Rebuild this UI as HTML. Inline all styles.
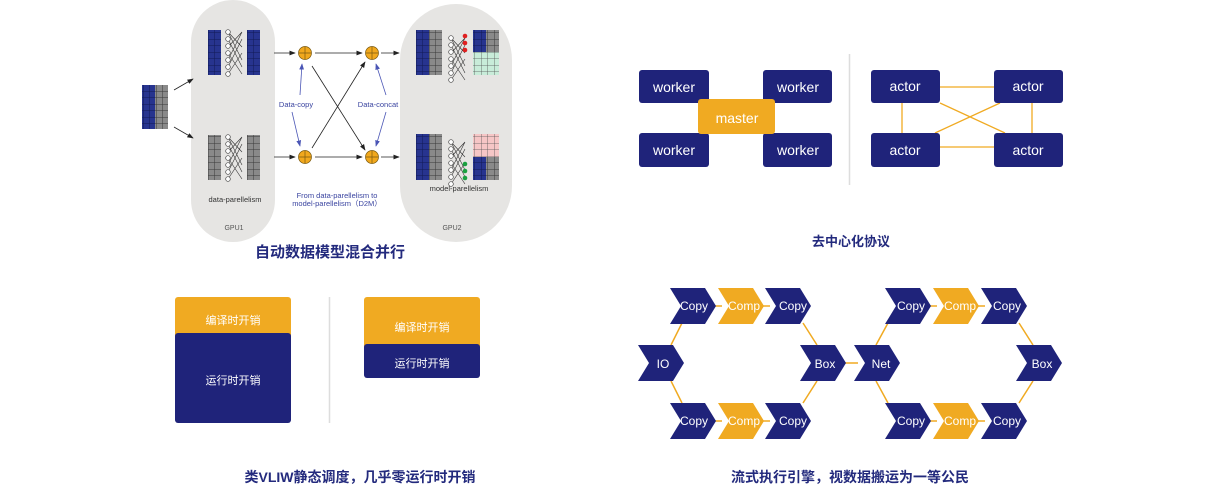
<!DOCTYPE html>
<html><head><meta charset="utf-8"><style>
html,body{margin:0;padding:0;background:#fff;}
svg{display:block;font-family:"Liberation Sans","Noto Sans CJK SC",sans-serif;}
</style></head><body>
<svg width="1207" height="500" viewBox="0 0 1207 500" xmlns="http://www.w3.org/2000/svg">
<defs>
<pattern id="gb" width="6.5" height="6.5" patternUnits="userSpaceOnUse"><rect width="6.5" height="6.5" fill="#27348f"/><path d="M0 0H6.5M0 0V6.5" stroke="#121a55" stroke-width="1"/></pattern>
<pattern id="gg" width="6.5" height="6.5" patternUnits="userSpaceOnUse"><rect width="6.5" height="6.5" fill="#8a8a8a"/><path d="M0 0H6.5M0 0V6.5" stroke="#3a3a3a" stroke-width="1"/></pattern>
<pattern id="gt" width="6.5" height="6.5" patternUnits="userSpaceOnUse"><rect width="6.5" height="6.5" fill="#c8ecd9"/><path d="M0 0H6.5M0 0V6.5" stroke="#555" stroke-width="0.8"/></pattern>
<pattern id="gp" width="6.5" height="6.5" patternUnits="userSpaceOnUse"><rect width="6.5" height="6.5" fill="#f6c6c6"/><path d="M0 0H6.5M0 0V6.5" stroke="#555" stroke-width="0.8"/></pattern>
<marker id="ak" markerWidth="8" markerHeight="8" refX="7" refY="4" orient="auto"><path d="M0 1L8 4L0 7Z" fill="#222"/></marker>
<marker id="ab" markerWidth="8" markerHeight="8" refX="7" refY="4" orient="auto"><path d="M0 1L8 4L0 7Z" fill="#4a55b5"/></marker>
<g id="net"><g stroke="#333" stroke-width="0.6" fill="none"><path d="M3 3L17 18M3 18L17 3M3 10L17 38M3 38L17 10M3 24L17 45M3 45L17 24M3 31L17 3M3 3L17 31"/></g>
<g fill="#fff" stroke="#444" stroke-width="0.7"><circle cx="3" cy="3" r="2.3"/><circle cx="3" cy="10" r="2.3"/><circle cx="3" cy="17" r="2.3"/><circle cx="3" cy="24" r="2.3"/><circle cx="3" cy="31" r="2.3"/><circle cx="3" cy="38" r="2.3"/><circle cx="3" cy="45" r="2.3"/></g></g>
</defs>

<rect x="191" y="0" width="84" height="242" rx="42" fill="#e6e5e3"/>
<rect x="400" y="4" width="112" height="238" rx="56" fill="#e6e5e3"/>
<rect x="142" y="85" width="13" height="44" fill="url(#gb)"/><rect x="155" y="85" width="13" height="44" fill="url(#gg)"/>
<line x1="174" y1="90" x2="193" y2="79" stroke="#222" stroke-width="0.8" marker-end="url(#ak)"/>
<line x1="174" y1="127" x2="193" y2="138" stroke="#222" stroke-width="0.8" marker-end="url(#ak)"/>
<rect x="208" y="30" width="13" height="45" fill="url(#gb)"/><use href="#net" x="225" y="29"/><rect x="247" y="30" width="13" height="45" fill="url(#gb)"/>
<rect x="208" y="135" width="13" height="45" fill="url(#gg)"/><use href="#net" x="225" y="134"/><rect x="247" y="135" width="13" height="45" fill="url(#gg)"/>
<text x="235" y="202" font-size="7.5" fill="#333" text-anchor="middle">data-parellelism</text>
<text x="234" y="230" font-size="7" fill="#555" text-anchor="middle">GPU1</text>
<rect x="416" y="30" width="13" height="45" fill="url(#gb)"/><rect x="429" y="30" width="13" height="45" fill="url(#gg)"/><use href="#net" x="448" y="35"/>
<g fill="#e02020"><circle cx="465" cy="36" r="2.3"/><circle cx="465" cy="43" r="2.3"/><circle cx="465" cy="50" r="2.3"/></g>
<rect x="473" y="30" width="26" height="22" fill="url(#gg)"/><rect x="473" y="30" width="13" height="22" fill="url(#gb)"/><rect x="473" y="52" width="26" height="23" fill="url(#gt)"/>
<rect x="416" y="134" width="13" height="46" fill="url(#gb)"/><rect x="429" y="134" width="13" height="46" fill="url(#gg)"/><use href="#net" x="448" y="139"/>
<g fill="#1aa040"><circle cx="465" cy="164" r="2.3"/><circle cx="465" cy="171" r="2.3"/><circle cx="465" cy="178" r="2.3"/></g>
<rect x="473" y="134" width="26" height="23" fill="url(#gp)"/><rect x="473" y="157" width="26" height="23" fill="url(#gg)"/><rect x="473" y="157" width="13" height="23" fill="url(#gb)"/>
<text x="459" y="191" font-size="7.5" fill="#333" text-anchor="middle">model-parellelism</text>
<text x="452" y="230" font-size="7" fill="#555" text-anchor="middle">GPU2</text>
<g stroke="#222" stroke-width="0.8" fill="none">
<line x1="274" y1="53" x2="295" y2="53" marker-end="url(#ak)"/><line x1="274" y1="157" x2="295" y2="157" marker-end="url(#ak)"/>
<line x1="315" y1="53" x2="362" y2="53" marker-end="url(#ak)"/><line x1="315" y1="157" x2="362" y2="157" marker-end="url(#ak)"/>
<line x1="312" y1="66" x2="365" y2="150" marker-end="url(#ak)"/><line x1="312" y1="148" x2="365" y2="62" marker-end="url(#ak)"/>
<line x1="381" y1="53" x2="399" y2="53" marker-end="url(#ak)"/><line x1="381" y1="157" x2="399" y2="157" marker-end="url(#ak)"/>
</g>
<g stroke="#4a55b5" stroke-width="0.8">
<line x1="300" y1="95" x2="302" y2="64" marker-end="url(#ab)"/><line x1="292" y1="112" x2="300" y2="146" marker-end="url(#ab)"/>
<line x1="386" y1="95" x2="376" y2="64" marker-end="url(#ab)"/><line x1="386" y1="112" x2="376" y2="146" marker-end="url(#ab)"/>
</g>
<text x="296" y="107" font-size="7.5" fill="#3a44a0" text-anchor="middle">Data-copy</text>
<text x="378" y="107" font-size="7.5" fill="#3a44a0" text-anchor="middle">Data-concat</text>
<g fill="#f1a81d" stroke="#7a5a10" stroke-width="0.7">
<circle cx="305" cy="53" r="6.5"/><circle cx="372" cy="53" r="6.5"/><circle cx="305" cy="157" r="6.5"/><circle cx="372" cy="157" r="6.5"/></g>
<g stroke="#7a5a10" stroke-width="0.7"><path d="M298.5 53h13M305 46.5v13M365.5 53h13M372 46.5v13M298.5 157h13M305 150.5v13M365.5 157h13M372 150.5v13"/></g>
<text x="337" y="198" font-size="7.5" fill="#3a44a0" text-anchor="middle">From data-parellelism to</text>
<text x="337" y="206" font-size="7.5" fill="#3a44a0" text-anchor="middle">model-parellelism（D2M）</text>
<text x="330" y="257" font-size="15" font-weight="bold" fill="#232a7d" text-anchor="middle">自动数据模型混合并行</text>

<g fill="#1f237a">
<rect x="639" y="70" width="70" height="33" rx="3"/><rect x="763" y="70" width="69" height="33" rx="3"/>
<rect x="639" y="133" width="70" height="34" rx="3"/><rect x="763" y="133" width="69" height="34" rx="3"/></g>
<rect x="698" y="99" width="77" height="35" rx="3" fill="#f0aa22"/>
<g fill="#fff" font-size="14" text-anchor="middle">
<text x="674" y="92">worker</text><text x="798" y="92">worker</text><text x="674" y="155">worker</text><text x="798" y="155">worker</text><text x="737" y="123">master</text></g>
<line x1="849.5" y1="54" x2="849.5" y2="185" stroke="#ddd" stroke-width="1.5"/>
<g stroke="#f0aa22" stroke-width="1.3"><path d="M940 87H994M940 147H994M902 103V133M1032 103V133M940 103L1005 133M1000 103L935 133"/></g>
<g fill="#1f237a">
<rect x="871" y="70" width="69" height="33" rx="3"/><rect x="994" y="70" width="69" height="33" rx="3"/>
<rect x="871" y="133" width="69" height="34" rx="3"/><rect x="994" y="133" width="69" height="34" rx="3"/></g>
<g fill="#fff" font-size="14" text-anchor="middle">
<text x="905" y="91">actor</text><text x="1028" y="91">actor</text><text x="905" y="155">actor</text><text x="1028" y="155">actor</text></g>
<text x="851" y="246" font-size="13" font-weight="bold" fill="#232a7d" text-anchor="middle">去中心化协议</text>

<rect x="175" y="297" width="116" height="45" rx="3" fill="#f0aa22"/>
<rect x="175" y="333" width="116" height="90" rx="3" fill="#1f237a"/>
<text x="233" y="324" font-size="11" fill="#fff" text-anchor="middle">编译时开销</text>
<text x="233" y="384" font-size="11" fill="#fff" text-anchor="middle">运行时开销</text>
<line x1="329.5" y1="297" x2="329.5" y2="423" stroke="#ddd" stroke-width="1.5"/>
<rect x="364" y="297" width="116" height="55" rx="3" fill="#f0aa22"/>
<rect x="364" y="344" width="116" height="34" rx="3" fill="#1f237a"/>
<text x="422" y="331" font-size="11" fill="#fff" text-anchor="middle">编译时开销</text>
<text x="422" y="367" font-size="11" fill="#fff" text-anchor="middle">运行时开销</text>
<text x="360" y="482" font-size="14" font-weight="bold" fill="#232a7d" text-anchor="middle">类VLIW静态调度，几乎零运行时开销</text>

<g stroke="#f0aa22" stroke-width="1.5" fill="none">
<path d="M682 323L671 345M671 381L682 403M803 323L817 345M817 381L803 403M845 363H858M888 323L876 345M876 381L888 403M1019 323L1033 345M1033 381L1019 403M711 306H722M759 306H770M711 421H722M759 421H770M926 306H937M974 306H985M926 421H937M974 421H985"/></g>
<g font-size="12" text-anchor="middle" fill="#fff">
<path d="M670 288h35l11 18l-11 18h-35l11-18z" fill="#1f237a"/><text x="694" y="310">Copy</text>
<path d="M718 288h35l11 18l-11 18h-35l11-18z" fill="#f0aa22"/><text x="744" y="310">Comp</text>
<path d="M765 288h35l11 18l-11 18h-35l11-18z" fill="#1f237a"/><text x="793" y="310">Copy</text>
<path d="M670 403h35l11 18l-11 18h-35l11-18z" fill="#1f237a"/><text x="694" y="425">Copy</text>
<path d="M718 403h35l11 18l-11 18h-35l11-18z" fill="#f0aa22"/><text x="744" y="425">Comp</text>
<path d="M765 403h35l11 18l-11 18h-35l11-18z" fill="#1f237a"/><text x="793" y="425">Copy</text>
<path d="M638 345h35l11 18l-11 18h-35l11-18z" fill="#1f237a"/><text x="663" y="368">IO</text>
<path d="M800 345h35l11 18l-11 18h-35l11-18z" fill="#1f237a"/><text x="825" y="368">Box</text>
<path d="M854 345h35l11 18l-11 18h-35l11-18z" fill="#1f237a"/><text x="881" y="368">Net</text>
<path d="M885 288h35l11 18l-11 18h-35l11-18z" fill="#1f237a"/><text x="911" y="310">Copy</text>
<path d="M933 288h35l11 18l-11 18h-35l11-18z" fill="#f0aa22"/><text x="960" y="310">Comp</text>
<path d="M981 288h35l11 18l-11 18h-35l11-18z" fill="#1f237a"/><text x="1007" y="310">Copy</text>
<path d="M885 403h35l11 18l-11 18h-35l11-18z" fill="#1f237a"/><text x="911" y="425">Copy</text>
<path d="M933 403h35l11 18l-11 18h-35l11-18z" fill="#f0aa22"/><text x="960" y="425">Comp</text>
<path d="M981 403h35l11 18l-11 18h-35l11-18z" fill="#1f237a"/><text x="1007" y="425">Copy</text>
<path d="M1016 345h35l11 18l-11 18h-35l11-18z" fill="#1f237a"/><text x="1042" y="368">Box</text>
</g>
<text x="850" y="482" font-size="14" font-weight="bold" fill="#232a7d" text-anchor="middle">流式执行引擎，视数据搬运为一等公民</text>
</svg>
</body></html>
